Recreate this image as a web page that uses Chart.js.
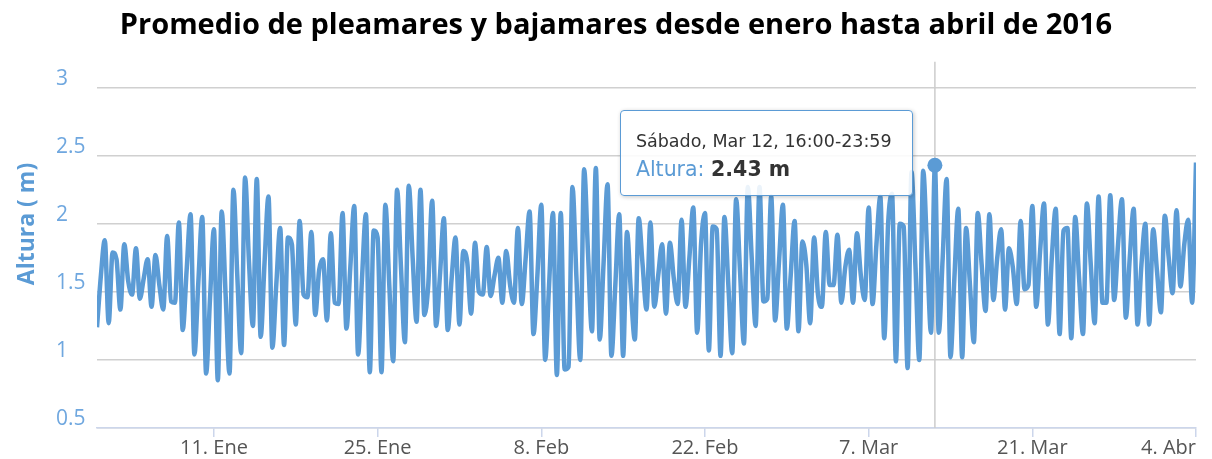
<!DOCTYPE html>
<html lang="es">
<head>
<meta charset="utf-8">
<title>Promedio de pleamares y bajamares</title>
<script src="https://cdn.jsdelivr.net/npm/chart.js"></script>
<style>
    html, body { margin: 0; padding: 0; background: #fff; }
    #wrap { position: relative; width: 1212px; height: 459px; }
    #tideTooltip {
        position: absolute;
        box-sizing: border-box;
        width: 293px;
        height: 86px;
        padding: 19px 0 0 15px;
        background: rgba(255, 255, 255, 0.88);
        border: 1.5px solid #5b9bd5;
        border-radius: 4px;
        box-shadow: 1px 1px 4px rgba(0, 0, 0, 0.22);
        font-family: "DejaVu Sans", sans-serif;
        color: #333;
        white-space: nowrap;
        pointer-events: none;
        opacity: 0;
    }
    #tideTooltip .tt-title { font-size: 17.5px; line-height: 22px; }
    #tideTooltip .tt-body { font-size: 20.5px; line-height: 26px; margin-top: 4px; }
    #tideTooltip .tt-name { color: #5b9bd5; }
</style>
</head>
<body>
<div id="wrap">
    <canvas id="tideChart" width="1212" height="459"></canvas>
    <div id="tideTooltip"></div>
</div>
<script>
// Mean tide height (m) per 8-hour slot: 00:00, 08:00 and 16:00 of each day
const alturasEnero = [
    1.24, 1.62, 1.88, 1.27, 1.79, 1.74, 1.37, 1.85, 1.58, 1.48, 1.82, 1.45,
    1.60, 1.74, 1.39, 1.77, 1.55, 1.37, 1.91, 1.43, 1.42, 2.01, 1.22, 1.66,
    2.07, 1.04, 1.57, 2.05, 0.90, 1.45, 1.96, 0.85, 2.09, 1.48, 0.90, 2.25,
    1.62, 1.05, 2.34, 1.72, 1.25, 2.33, 1.17, 1.72, 2.20, 1.09, 1.55, 1.97,
    1.11, 1.90, 1.85, 1.26, 2.02, 1.48, 1.46, 1.94, 1.33, 1.66, 1.74, 1.29,
    1.93, 1.42, 1.41, 2.08, 1.23, 1.68, 2.13, 1.04, 1.60, 2.07, 0.91, 1.95,
    1.90, 0.91, 2.14, 1.55, 0.99, 2.25, 1.68, 1.13, 2.28, 1.75, 1.28, 2.25,
    1.33, 1.55, 2.17, 1.25, 1.62, 2.04, 1.22, 1.60, 1.90
];
const alturasFebrero = [
    1.26, 1.80, 1.72, 1.34, 1.86, 1.50, 1.48, 1.83, 1.47, 1.62, 1.75, 1.42,
    1.80, 1.55, 1.42, 1.97, 1.41, 1.75, 2.09, 1.19, 1.62, 2.14, 1.00, 1.55,
    2.08, 0.89, 2.08, 0.93, 0.95, 2.27, 1.62, 1.00, 2.40, 1.78, 1.21, 2.41,
    1.15, 1.72, 2.29, 1.03, 1.55, 2.07, 1.03, 1.94, 1.50, 1.15, 2.04, 1.70,
    1.37, 2.01, 1.39, 1.62, 1.85, 1.34, 1.86, 1.60, 1.41, 2.03, 1.39, 1.75,
    2.12, 1.20, 1.85, 2.08, 1.07, 1.98, 1.96, 1.03, 2.05, 1.55, 1.05, 2.18,
    1.65, 1.12, 2.27, 1.75, 1.25, 2.27, 1.43, 1.45, 2.20, 1.29, 1.72, 2.14,
    1.23, 1.62, 2.02
];
const alturasMarzo = [
    1.21, 1.87, 1.70, 1.27, 1.90, 1.48, 1.39, 1.94, 1.55, 1.55, 1.92, 1.42,
    1.68, 1.81, 1.42, 1.93, 1.62, 1.44, 2.12, 1.41, 1.85, 2.20, 1.16, 2.00,
    2.22, 0.99, 2.00, 1.98, 0.94, 2.38, 1.70, 1.00, 2.39, 1.80, 1.20, 2.43,
    1.20, 1.75, 2.33, 1.02, 1.60, 2.11, 1.02, 1.97, 1.55, 1.13, 2.08, 1.70,
    1.36, 2.07, 1.44, 1.75, 1.96, 1.37, 1.82, 1.68, 1.41, 2.02, 1.52, 1.55,
    2.13, 1.39, 1.80, 2.15, 1.26, 1.75, 2.11, 1.19, 1.95, 1.97, 1.16, 2.05,
    1.60, 1.19, 2.15, 1.70, 1.27, 2.20, 1.42, 1.42, 2.21, 1.44, 1.85, 2.18,
    1.31, 1.75, 2.11, 1.26, 1.70, 2.00, 1.26, 1.96, 1.65
];
const alturasAbril = [1.35, 2.06, 1.75, 1.49, 2.10, 1.54, 1.85, 2.03, 1.42, 2.45];

// Axis ticks and labels
const fechasTicksX = ['2016-01-11', '2016-01-25', '2016-02-08', '2016-02-22', '2016-03-07', '2016-03-21', '2016-04-04'];
const etiquetasX = ['11. Ene', '25. Ene', '8. Feb', '22. Feb', '7. Mar', '21. Mar', '4. Abr'];
const ticksY = [0.5, 1, 1.5, 2, 2.5, 3];

const diasSemana = ['Domingo', 'Lunes', 'Martes', 'Miércoles', 'Jueves', 'Viernes', 'Sábado'];
const mesesCortos = ['Ene', 'Feb', 'Mar', 'Abr', 'May', 'Jun', 'Jul', 'Ago', 'Sep', 'Oct', 'Nov', 'Dic'];

const inicioSerie = Date.UTC(2016, 0, 1);
const finSerie = Date.UTC(2016, 3, 4);
const franjaMs = 8 * 3600 * 1000;
const franjaDestacada = Date.UTC(2016, 2, 12, 16);

const colorSerie = '#5b9bd5';

const alturas = [...alturasEnero, ...alturasFebrero, ...alturasMarzo, ...alturasAbril];
const puntos = alturas.map((y, i) => ({ x: inicioSerie + i * franjaMs, y: y }));
const ticksX = fechasTicksX.map(d => Date.parse(d + 'T00:00:00Z'));

function pad2(n) {
    return String(n).padStart(2, '0');
}

function etiquetaFranja(t) {
    const d = new Date(t);
    const fin = new Date(t + franjaMs - 60000);
    return diasSemana[d.getUTCDay()] + ', ' + mesesCortos[d.getUTCMonth()] + ' ' + d.getUTCDate() + ', ' +
        pad2(d.getUTCHours()) + ':' + pad2(d.getUTCMinutes()) + '-' +
        pad2(fin.getUTCHours()) + ':' + pad2(fin.getUTCMinutes());
}

// HTML tooltip so the series name and the value can have their own styles
function renderTooltip(context) {
    const tooltip = context.tooltip;
    const el = document.getElementById('tideTooltip');
    if (!tooltip.dataPoints || !tooltip.dataPoints.length) {
        el.style.opacity = 0;
        return;
    }
    const dp = tooltip.dataPoints[0];
    el.innerHTML =
        '<div class="tt-title">' + etiquetaFranja(dp.parsed.x) + '</div>' +
        '<div class="tt-body"><span class="tt-name">' + dp.dataset.label + ':</span> <b>' +
        dp.parsed.y.toFixed(2) + ' m</b></div>';
    el.style.left = (dp.element.x - el.offsetWidth - 22) + 'px';
    el.style.top = (dp.element.y - 55) + 'px';
    el.style.opacity = 1;
}

// Vertical guide at the hovered point
const crosshair = {
    id: 'crosshair',
    beforeDatasetsDraw(chart) {
        const active = chart.getActiveElements();
        if (!active.length) return;
        const x = active[0].element.x;
        const area = chart.chartArea;
        const c = chart.ctx;
        c.save();
        c.strokeStyle = '#cccccc';
        c.lineWidth = 1.5;
        c.beginPath();
        c.moveTo(x, area.top);
        c.lineTo(x, area.bottom);
        c.stroke();
        c.restore();
    }
};

// Rotated title beside the y axis
const tituloEjeY = {
    id: 'tituloEjeY',
    afterDraw(chart, args, opts) {
        const c = chart.ctx;
        c.save();
        c.translate(opts.x, opts.y);
        c.rotate(-Math.PI / 2);
        c.font = opts.font;
        c.fillStyle = opts.color;
        c.textAlign = 'center';
        c.textBaseline = 'middle';
        c.fillText(opts.text, 0, 0);
        c.restore();
    }
};

const ctx = document.getElementById('tideChart');
const chart = new Chart(ctx.getContext('2d'), {
    type: 'line',
    data: {
        datasets: [{
            label: 'Altura',
            data: puntos,
            borderColor: colorSerie,
            backgroundColor: colorSerie,
            borderWidth: 4.5,
            pointRadius: 0,
            pointHoverRadius: 7.5,
            pointHoverBorderWidth: 0,
            pointHoverBackgroundColor: colorSerie,
            cubicInterpolationMode: 'monotone',
            fill: false
        }]
    },
    options: {
        responsive: false,
        animation: false,
        devicePixelRatio: 1,
        events: [],
        layout: {
            padding: { left: 20, right: 0, top: 0, bottom: 0 }
        },
        plugins: {
            legend: { display: false },
            title: {
                display: true,
                text: 'Promedio de pleamares y bajamares desde enero hasta abril de 2016',
                color: '#000',
                font: { family: 'Open Sans', size: 29, weight: 'bold' },
                padding: { top: 8, bottom: 19 }
            },
            tooltip: {
                enabled: false,
                external: renderTooltip
            },
            tituloEjeY: {
                text: 'Altura ( m)',
                color: colorSerie,
                font: 'bold 23px "Open Sans"',
                x: 27,
                y: 224
            }
        },
        scales: {
            x: {
                type: 'linear',
                min: inicioSerie,
                max: finSerie,
                afterBuildTicks: scale => {
                    scale.ticks = [inicioSerie, ...ticksX].map(v => ({ value: v }));
                },
                afterFit: scale => {
                    scale.height = 31;
                    scale.paddingLeft = 0;
                    scale.paddingRight = 16;
                },
                grid: {
                    drawOnChartArea: false,
                    drawTicks: true,
                    tickLength: 9,
                    lineWidth: 1.5,
                    color: c => (c.index === 0 ? 'rgba(0,0,0,0)' : '#ccd6eb')
                },
                border: { color: '#ccd6eb', width: 1.5 },
                ticks: {
                    autoSkip: false,
                    maxRotation: 0,
                    align: 'inner',
                    padding: -1,
                    color: '#555',
                    font: { family: 'Open Sans', size: 20 },
                    callback: value => {
                        const i = ticksX.indexOf(value);
                        return i < 0 ? '' : etiquetasX[i];
                    }
                }
            },
            y: {
                min: 0.5,
                max: 3.19,
                afterBuildTicks: scale => {
                    scale.ticks = ticksY.map(v => ({ value: v }));
                },
                afterFit: scale => {
                    scale.width = 77;
                },
                grid: {
                    color: '#d0d0d0',
                    lineWidth: 1.5,
                    drawTicks: false
                },
                border: { display: false },
                ticks: {
                    mirror: true,
                    crossAlign: 'near',
                    padding: -41,
                    labelOffset: -9,
                    color: '#6fa7df',
                    font: { family: 'Open Sans', size: 21 },
                    callback: value => String(value)
                }
            }
        }
    },
    plugins: [crosshair, tituloEjeY]
});

// Show the reading for Saturday 12 March, 16:00-23:59
const idxDestacado = puntos.findIndex(p => p.x === franjaDestacada);
const activos = [{ datasetIndex: 0, index: idxDestacado }];
chart.setActiveElements(activos);
chart.tooltip.setActiveElements(activos, { x: 0, y: 0 });
chart.update();
</script>
</body>
</html>
